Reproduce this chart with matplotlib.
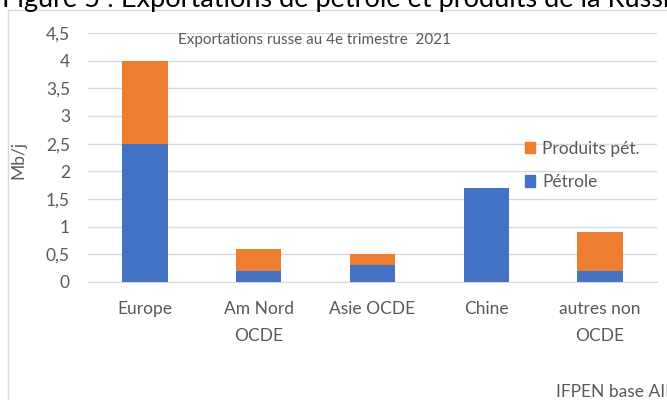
import matplotlib.pyplot as plt
from matplotlib.patches import Rectangle, Patch
import numpy as np

# donnees (Mb/j)
regions = ["Europe", "Am Nord\nOCDE", "Asie OCDE", "Chine", "autres non\nOCDE"]
petrole = [2.5, 0.2, 0.3, 1.7, 0.2]
produits = [1.5, 0.4, 0.2, 0.0, 0.7]
yticks = [0, 0.5, 1, 1.5, 2, 2.5, 3, 3.5, 4, 4.5]
ytick_labels = ["0", "0,5", "1", "1,5", "2", "2,5", "3", "3,5", "4", "4,5"]

bleu = "#4472C4"
orange = "#ED7D31"
gris = "#595959"

plt.rcParams["font.family"] = ["Lato", "DejaVu Sans"]

W, H = 667, 400
fig = plt.figure(figsize=(W / 100, H / 100), dpi=100)

# cadre du graphique (coupe a droite et en bas)
fig.patches.append(Rectangle((8 / W, -0.1), 1.2, 1 - 10 / H + 0.1,
                             transform=fig.transFigure, fill=False,
                             edgecolor="#D9D9D9", linewidth=1))

# titre de la figure, coupe en haut comme sur l'image
fig.text(2 / W, 1 - 7 / H, "Figure 5 : Exportations de pétrole et produits de la Russie",
         fontsize=19.5, color="black", va="baseline", ha="left")

ax = fig.add_axes([88 / W, (H - 282) / H, 569 / W, 249 / H])
x = np.arange(len(regions))
ax.bar(x, petrole, width=0.4, color=bleu, zorder=3)
ax.bar(x, produits, width=0.4, bottom=petrole, color=orange, zorder=3)

ax.set_xlim(-0.5, len(regions) - 0.5)
ax.set_ylim(0, 4.5)
ax.set_yticks(yticks)
ax.set_yticklabels(ytick_labels)
ax.set_xticks(x)
ax.set_xticklabels(regions, linespacing=1.8)
ax.tick_params(length=0, colors=gris, labelsize=12.5)
ax.tick_params(axis="y", pad=13)
ax.tick_params(axis="x", pad=14)
ax.grid(axis="y", color="#D9D9D9", linewidth=1, zorder=0)
for s in ["top", "right", "left"]:
    ax.spines[s].set_visible(False)
ax.spines["bottom"].set_color("#D9D9D9")
ax.set_ylabel("Mb/j", color=gris, fontsize=12.5)
ax.yaxis.set_label_coords(-62 / 569, 0.49)

ax.text(0.158, 0.972, "Exportations russe au 4e trimestre  2021",
        transform=ax.transAxes, fontsize=11, color=gris, va="center", ha="left")

handles = [Patch(color=orange, label="Produits pét."), Patch(color=bleu, label="Pétrole")]
ax.legend(handles=handles, loc="upper left", bbox_to_anchor=(0.74, 0.63),
          frameon=False, fontsize=12.5, labelspacing=1.0, handlelength=0.6,
          handleheight=0.6, handletextpad=0.4, labelcolor=gris)

fig.text(556 / W, 1 - 392 / H, "IFPEN base AIE", fontsize=12.5, color=gris,
         va="center", ha="left")

fig.savefig("out.png", dpi=100)
